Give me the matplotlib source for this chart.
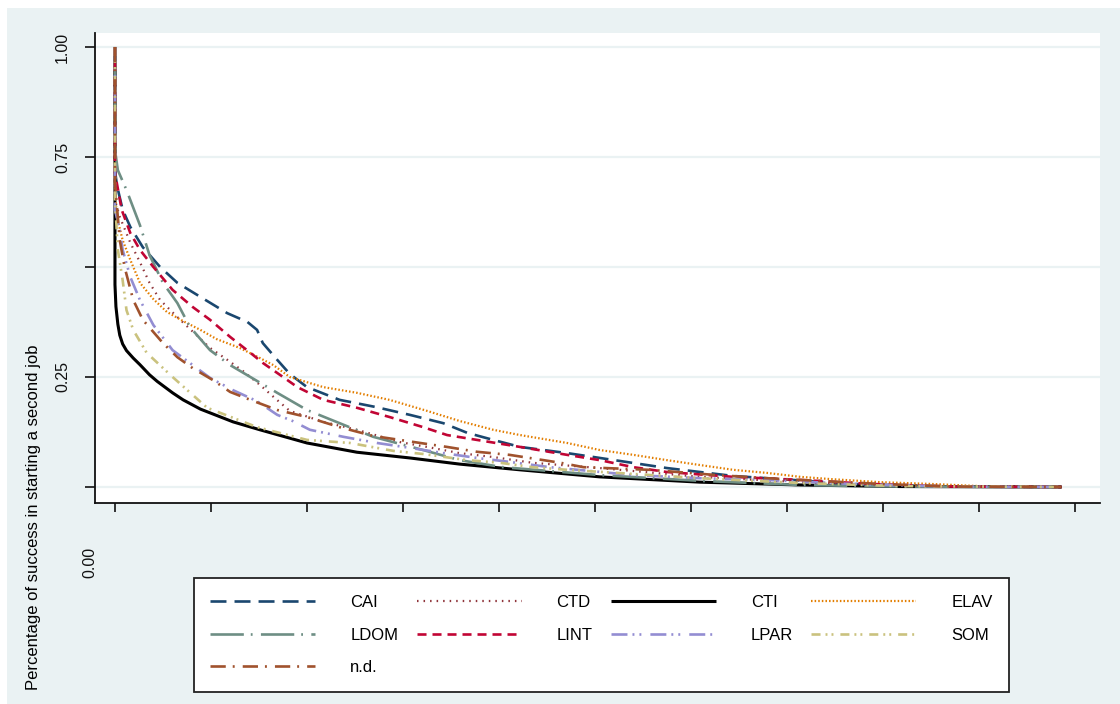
import matplotlib
matplotlib.use("Agg")
import matplotlib.pyplot as plt
from matplotlib.patches import Rectangle

plt.rcParams['font.family'] = ['Liberation Sans', 'DejaVu Sans']
plt.rcParams['lines.scale_dashes'] = False

BG = '#EAF2F3'

# ---- data (time since start, survival share) ----
cai_t = [0, 0, 2, 8, 16, 29, 47, 65, 89, 117, 138, 148, 154, 169, 182, 200, 234, 271, 307, 342, 367, 394, 422, 471, 505, 575, 644, 706, 766, 870, 986]
cai_s = [1.0, 0.72, 0.686, 0.630, 0.591, 0.545, 0.5, 0.464, 0.432, 0.395, 0.375, 0.357, 0.327, 0.289, 0.257, 0.227, 0.198, 0.182, 0.164, 0.145, 0.123, 0.107, 0.091, 0.077, 0.066, 0.043, 0.025, 0.016, 0.007, 0.001, 0.0]

ctd_t = [0, 0, 5, 16, 26, 36, 47, 65, 85, 99, 117, 133, 151, 165, 182, 217, 252, 297, 325, 359, 394, 435, 505, 609, 714, 818, 974]
ctd_s = [1.0, 0.652, 0.614, 0.555, 0.511, 0.464, 0.425, 0.386, 0.345, 0.316, 0.289, 0.264, 0.232, 0.205, 0.173, 0.148, 0.130, 0.102, 0.091, 0.077, 0.068, 0.055, 0.043, 0.023, 0.011, 0.002, 0.0]

cti_t = [0, 0, 1, 3, 5, 8, 12, 19, 26, 36, 44, 60, 71, 89, 123, 151, 200, 252, 307, 359, 422, 505, 609, 714, 818, 986]
cti_s = [1.0, 0.46, 0.41, 0.37, 0.345, 0.325, 0.31, 0.293, 0.278, 0.255, 0.24, 0.214, 0.198, 0.177, 0.148, 0.130, 0.100, 0.079, 0.066, 0.052, 0.039, 0.023, 0.011, 0.0045, 0.001, 0.0]

elav_t = [0, 0, 2, 8, 16, 26, 40, 54, 71, 89, 106, 130, 151, 165, 182, 217, 252, 286, 325, 359, 394, 422, 471, 505, 540, 575, 609, 644, 679, 714, 745, 797, 849, 901, 986]
elav_s = [1.0, 0.675, 0.614, 0.561, 0.516, 0.464, 0.427, 0.398, 0.377, 0.357, 0.336, 0.316, 0.293, 0.277, 0.25, 0.227, 0.214, 0.198, 0.173, 0.150, 0.130, 0.118, 0.100, 0.084, 0.073, 0.061, 0.050, 0.039, 0.032, 0.023, 0.018, 0.011, 0.007, 0.002, 0.0]

ldom_t = [0, 0, 3, 12, 26, 36, 50, 65, 78, 99, 120, 141, 169, 200, 234, 269, 321, 359, 404, 505, 609, 714, 818, 974]
ldom_s = [1.0, 0.766, 0.720, 0.675, 0.595, 0.527, 0.464, 0.418, 0.364, 0.311, 0.277, 0.25, 0.214, 0.175, 0.145, 0.114, 0.084, 0.061, 0.045, 0.027, 0.014, 0.0045, 0.001, 0.0]

lint_t = [0, 0, 7, 16, 26, 40, 60, 81, 99, 120, 141, 154, 175, 190, 217, 252, 286, 321, 346, 377, 422, 471, 505, 540, 575, 644, 714, 786, 870, 986]
lint_s = [1.0, 0.714, 0.630, 0.577, 0.539, 0.5, 0.448, 0.409, 0.380, 0.341, 0.305, 0.282, 0.25, 0.227, 0.198, 0.180, 0.159, 0.136, 0.118, 0.107, 0.091, 0.073, 0.061, 0.045, 0.034, 0.023, 0.016, 0.007, 0.001, 0.0]

lpar_t = [0, 0, 5, 8, 16, 26, 40, 60, 81, 99, 123, 148, 169, 185, 203, 238, 273, 307, 342, 377, 411, 453, 540, 609, 679, 766, 870, 986]
lpar_s = [1.0, 0.630, 0.584, 0.539, 0.477, 0.425, 0.368, 0.311, 0.277, 0.248, 0.220, 0.195, 0.164, 0.150, 0.130, 0.114, 0.100, 0.089, 0.077, 0.066, 0.057, 0.045, 0.027, 0.020, 0.016, 0.007, 0.001, 0.0]

som_t = [0, 0, 3, 8, 12, 19, 33, 60, 96, 148, 200, 245, 290, 321, 367, 401, 435, 471, 523, 609, 714, 818, 986]
som_s = [1.0, 0.652, 0.539, 0.470, 0.402, 0.357, 0.305, 0.25, 0.180, 0.136, 0.107, 0.100, 0.082, 0.075, 0.061, 0.055, 0.045, 0.039, 0.032, 0.020, 0.009, 0.002, 0.0]

nd_t = [0, 0, 5, 10, 19, 29, 50, 65, 81, 102, 120, 141, 169, 200, 234, 269, 318, 346, 377, 411, 464, 488, 557, 627, 679, 714, 797, 870, 986]
nd_s = [1.0, 0.691, 0.561, 0.5, 0.425, 0.380, 0.327, 0.295, 0.270, 0.243, 0.216, 0.198, 0.175, 0.159, 0.136, 0.116, 0.100, 0.091, 0.080, 0.073, 0.055, 0.045, 0.039, 0.027, 0.020, 0.016, 0.007, 0.001, 0.0]

labels = ["CAI", "CTD", "CTI", "ELAV", "LDOM", "LINT", "LPAR", "SOM", "n.d."]
times = [cai_t, ctd_t, cti_t, elav_t, ldom_t, lint_t, lpar_t, som_t, nd_t]
survs = [cai_s, ctd_s, cti_s, elav_s, ldom_s, lint_s, lpar_s, som_s, nd_s]

y_ticks = [0.0, 0.25, 0.5, 0.75, 1.0]
y_ticklabels = ["", "0.25", "", "0.75", "1.00"]
x_ticks = [0, 100, 200, 300, 400, 500, 600, 700, 800, 900, 1000]

# ---- styles ----
colors = ['#1a476f', '#90353b', '#000000', '#e37e00', '#6e8e84',
          '#c10534', '#938dd2', '#cac27e', '#a0522d']
styles = [
    (0, (11.5, 5.8)),                         # dash
    (0, (1.1, 3.6)),                          # dot
    '-',                                      # solid
    (0, (1.1, 1.5)),                          # dense dot
    (0, (24, 5, 1.3, 6)),                     # longdash-dot
    (0, (6.5, 4.3)),                          # shortdash
    (0, (11.5, 3.6, 1.4, 3.6, 1.4, 6.5)),     # longdash-dot-dot
    (0, (6.5, 3.6, 1.4, 2.9, 1.4, 5)),        # shortdash-dot-dot
    (0, (11, 5, 1.4, 5.8)),                   # dash-dot
]
widths = [1.9, 1.6, 2.2, 1.6, 1.9, 1.9, 1.9, 1.9, 1.9]

W, H = 1120, 704
fig = plt.figure(figsize=(W / 100, H / 100), dpi=100)
fig.patch.set_facecolor('white')
fig.patches.append(Rectangle((7 / W, 0), 1 - 7 / W, 1 - 8 / H,
                             transform=fig.transFigure, facecolor=BG,
                             edgecolor='none', zorder=-10))

ax = fig.add_axes([95 / W, 1 - 503 / H, 1005 / W, 470 / H])
ax.set_facecolor('white')

for yt in y_ticks:
    ax.axhline(yt, color=BG, lw=1.6, zorder=0.5)

handles = {}
for lab, t, s, c, ls, lw in zip(labels, times, survs, colors, styles, widths):
    h, = ax.plot(t, s, color=c, linestyle=ls, lw=lw, label=lab,
                 solid_capstyle='butt', dash_capstyle='butt')
    handles[lab] = h

ax.set_xlim(-20.8, 1026)
ax.set_ylim(-0.0364, 1.0318)

for sp in ['top', 'right']:
    ax.spines[sp].set_visible(False)
for sp in ['left', 'bottom']:
    ax.spines[sp].set_color('#111111')
    ax.spines[sp].set_linewidth(1.3)

ax.set_yticks(y_ticks)
ax.set_yticklabels(y_ticklabels)
ax.set_xticks(x_ticks)
ax.set_xticklabels([""] * len(x_ticks))
ax.tick_params(axis='y', direction='out', length=7, width=1.2,
               labelsize=11.5, pad=11, labelrotation=90, colors='#111111')
ax.tick_params(axis='x', direction='out', length=6.5, width=1.2,
               colors='#111111')
for lbl in ax.get_yticklabels():
    lbl.set_verticalalignment('center')

ax.set_ylabel("Percentage of success in starting a second job", fontsize=12)
ax.yaxis.set_label_coords(41 / W, 1 - 517 / H, transform=fig.transFigure)

fig.text(90 / W, 1 - 562 / H, "0.00", rotation=90, ha='center', va='center',
         fontsize=11.5, color='#111111')

# legend filled row-wise (matplotlib fills column-wise)
leg_order = ["CAI", "LDOM", "n.d.", "CTD", "LINT", "CTI", "LPAR", "ELAV", "SOM"]
leg = fig.legend(handles=[handles[k] for k in leg_order], labels=leg_order,
                 ncol=4, loc='center',
                 bbox_to_anchor=(601.5 / W, 1 - 635 / H), fontsize=12,
                 handlelength=6.3, handletextpad=2.1, columnspacing=1.1,
                 labelspacing=1.05, borderpad=1.0, fancybox=False,
                 framealpha=1, facecolor='white', edgecolor='#222222')
leg.get_frame().set_linewidth(1.3)

fig.savefig("out.png", dpi=100, facecolor=fig.get_facecolor())
